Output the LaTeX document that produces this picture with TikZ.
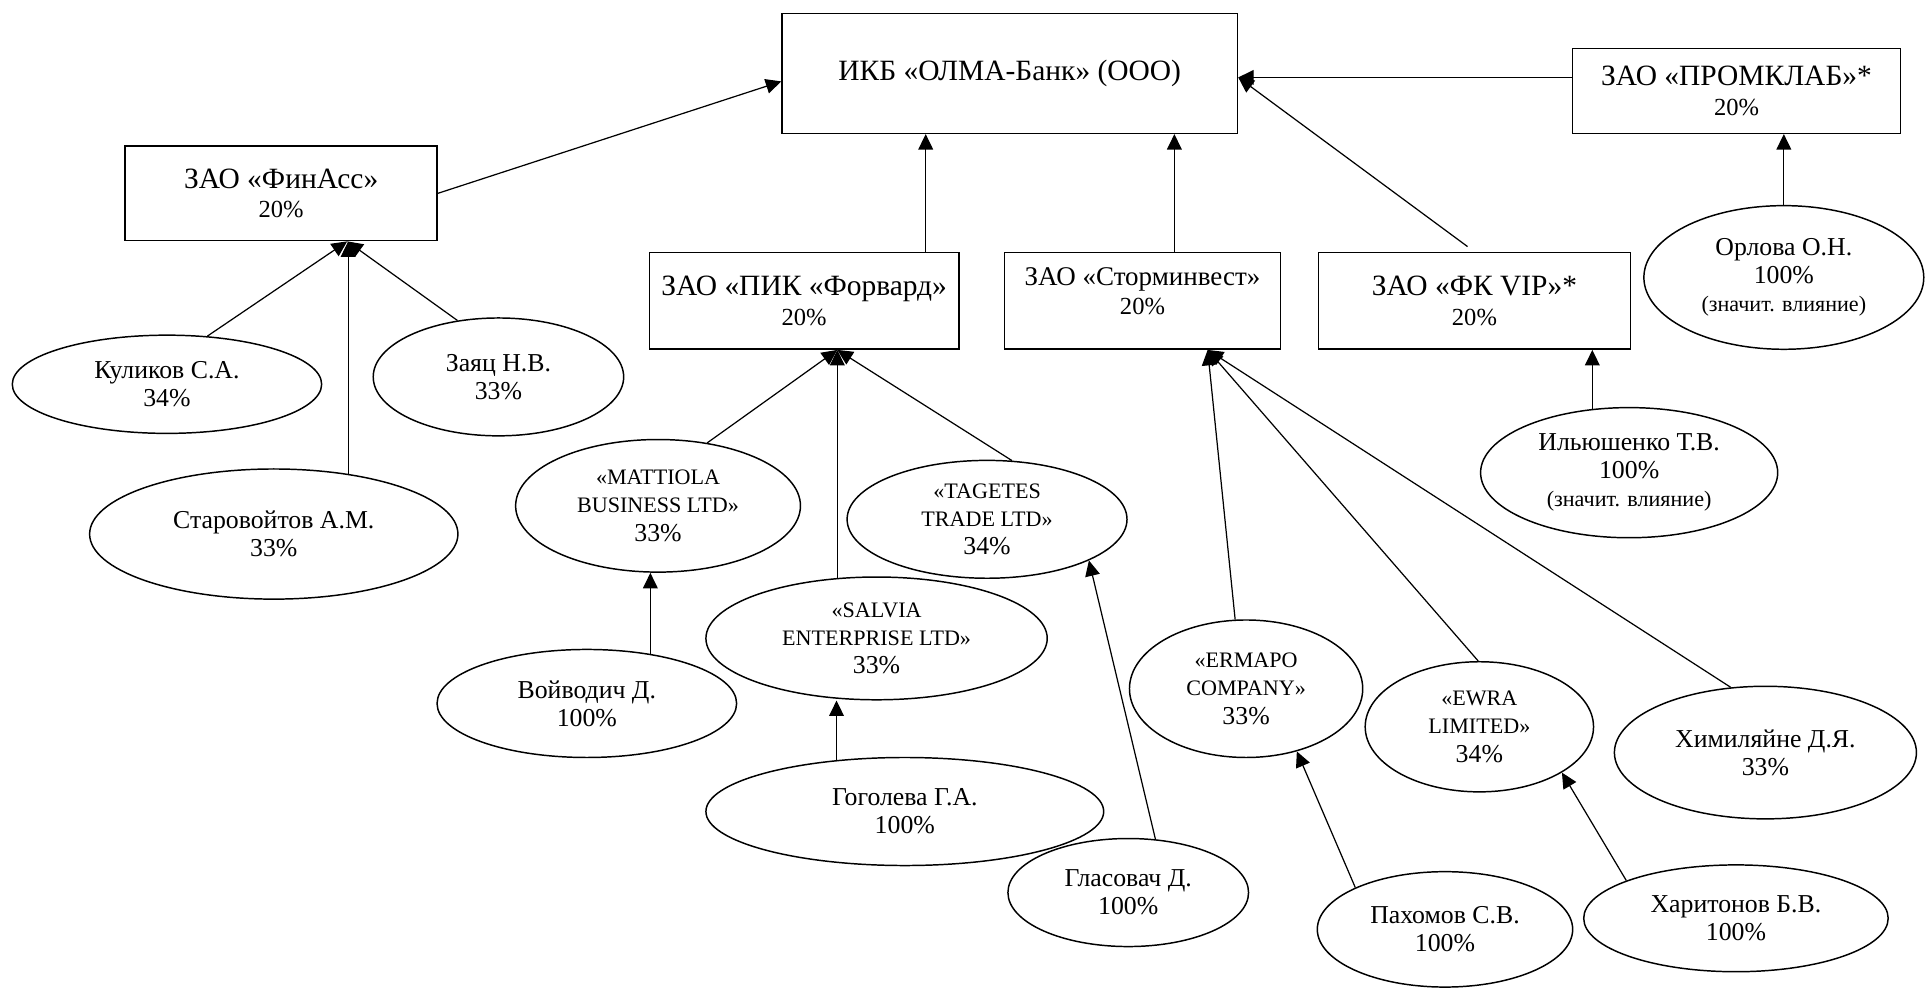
\documentclass[tikz,border=0pt]{standalone}
\usepackage{fontspec}
\setmainfont{Liberation Serif}
\usetikzlibrary{shapes.geometric,arrows.meta}
\newcommand\pc[1]{{\fontsize{10}{12}\selectfont #1\%}}
\newcommand\lat[1]{{\fontsize{9}{11}\selectfont #1}}
\newcommand\infl{{\fontsize{9}{10}\selectfont (значит. влияние)}}

\begin{document}
\begin{tikzpicture}[x=0.5pt,y=-0.5pt,line width=0.6pt,
    firm/.style={draw,rectangle,align=center,inner sep=0pt,font=\fontsize{12}{12}\selectfont},
    owner/.style={draw,ellipse,align=center,inner sep=0pt,font=\fontsize{10.5}{11.5}\selectfont},
    arr/.style={line width=0.5pt,-{Triangle[length=6.3pt,width=6pt]}}]
   \useasboundingbox (0,0) rectangle (1568,804);
   % firms
   \node[firm,minimum width=185.5pt,minimum height=48.8pt] (bank) at (822.5,59.8) {ИКБ «ОЛМА-Банк» (ООО)};
   \node[firm,minimum width=127pt,minimum height=38.5pt] (finass) at (229,157.5) {ЗАО «ФинАсс»\\\pc{20}};
   \node[firm,minimum width=133.5pt,minimum height=34.6pt] (promklab) at (1414.5,74) {ЗАО «ПРОМКЛАБ»*\\\pc{20}};
   \node[firm,minimum width=126pt,minimum height=39.4pt] (pik) at (655,245) {ЗАО «ПИК «Форвард»\\\pc{20}};
   \node[firm,minimum width=112.6pt,minimum height=39.4pt,font=\fontsize{11}{12}\selectfont,text depth=8pt] (storm) at (930.6,245) {ЗАО «Сторминвест»\\\pc{20}};
   \node[firm,minimum width=127.2pt,minimum height=39.4pt] (fkvip) at (1201,245) {ЗАО «ФК VIP»*\\\pc{20}};
   % owners
   \node[owner,minimum width=126pt,minimum height=40pt] (kulikov) at (136,313) {Куликов С.А.\\34\%};
   \node[owner,minimum width=102pt,minimum height=48pt] (zayats) at (406,307) {Заяц Н.В.\\33\%};
   \node[owner,minimum width=150pt,minimum height=53pt] (starovoitov) at (223,435) {Старовойтов А.М.\\33\%};
   \node[owner,minimum width=116pt,minimum height=54pt] (mattiola) at (536,412) {\lat{«MATTIOLA}\\\lat{BUSINESS LTD»}\\33\%};
   \node[owner,minimum width=114pt,minimum height=48pt] (tagetes) at (804,423) {\lat{«TAGETES}\\\lat{TRADE LTD»}\\34\%};
   \node[owner,minimum width=139pt,minimum height=50pt] (salvia) at (714,520) {\lat{«SALVIA}\\\lat{ENTERPRISE LTD»}\\33\%};
   \node[owner,minimum width=122pt,minimum height=44pt] (voivodich) at (478,573) {Войводич Д.\\100\%};
   \node[owner,minimum width=162pt,minimum height=44pt] (gogoleva) at (737,661) {Гоголева Г.А.\\100\%};
   \node[owner,minimum width=98pt,minimum height=44pt] (glasovach) at (919,727) {Гласовач Д.\\100\%};
   \node[owner,minimum width=95pt,minimum height=56pt] (ermapo) at (1015,561) {\lat{«ERMAPO}\\\lat{COMPANY»}\\33\%};
   \node[owner,minimum width=93pt,minimum height=53pt] (ewra) at (1205,592) {\lat{«EWRA}\\\lat{LIMITED»}\\34\%};
   \node[owner,minimum width=123pt,minimum height=54pt] (khim) at (1438,613) {Химиляйне Д.Я.\\33\%};
   \node[owner,minimum width=104pt,minimum height=47pt] (pakhomov) at (1177,757) {Пахомов С.В.\\100\%};
   \node[owner,minimum width=124pt,minimum height=43.5pt] (kharitonov) at (1414,748) {Харитонов Б.В.\\100\%};
   \node[owner,minimum width=121pt,minimum height=53pt] (ilyushenko) at (1327,385) {Ильюшенко Т.В.\\100\%\\\infl};
   \node[owner,minimum width=114pt,minimum height=58.5pt] (orlova) at (1453,226) {Орлова О.Н.\\100\%\\\infl};
   % shares
   \path[arr]
   (finass.east) edge (bank.182)
   (pik.22) edge (pik.22 |- bank.south)
   (storm.57) edge (storm.57 |- bank.south)
   (fkvip.north) edge[shorten <=3.5pt] (bank.-1)
   (bank.-1 -| promklab.west) edge (bank.-1)
   (orlova.north) edge (orlova.north |- promklab.south)
   (ilyushenko.120) edge (ilyushenko.120 |- fkvip.south)
   (kulikov.50) edge (finass.-36)
   (starovoitov.39) edge (starovoitov.39 |- finass.south)
   (zayats.126) edge (finass.-36)
   (mattiola.52) edge (pik.-56)
   (salvia.123) edge (salvia.123 |- pik.south)
   (tagetes.67) edge (pik.-56)
   (voivodich.38) edge (voivodich.38 |- mattiola.south)
   (gogoleva.143) edge (gogoleva.143 |- salvia.south)
   (glasovach.63) edge (tagetes.-22)
   (ermapo.99) edge (storm.-37)
   (ewra.91) edge (storm.-37)
   (khim.118) edge (storm.-37)
   (pakhomov.155) edge (ermapo.-51)
   (kharitonov.161) edge (ewra.-29);
\end{tikzpicture}
\end{document}
